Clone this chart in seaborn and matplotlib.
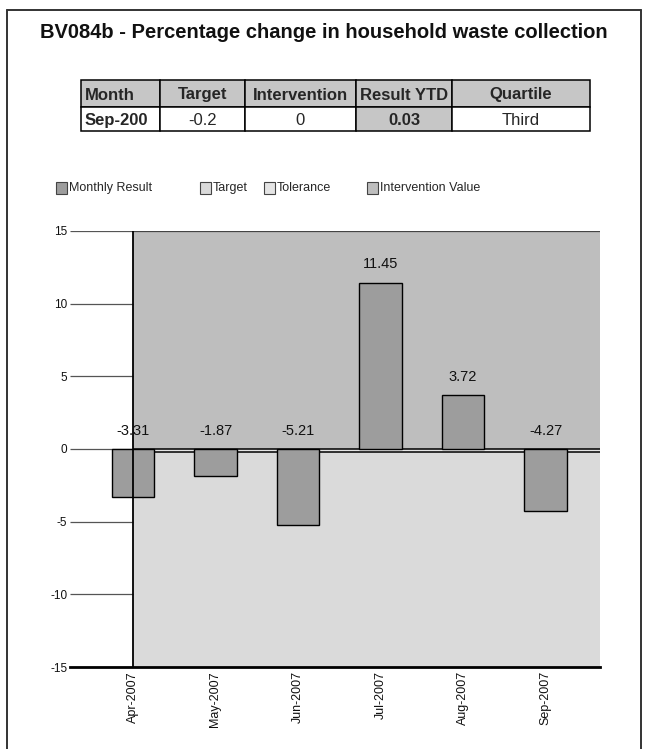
import matplotlib
matplotlib.use("Agg")
import matplotlib.pyplot as plt
from matplotlib.patches import Rectangle
from matplotlib.lines import Line2D
import seaborn as sns
import pandas as pd

# ---- data -------------------------------------------------------------
months = ["Apr-2007", "May-2007", "Jun-2007", "Jul-2007", "Aug-2007", "Sep-2007"]
monthly_result = [-3.31, -1.87, -5.21, 11.45, 3.72, -4.27]
target_value = -0.2
intervention_value = 0.0
y_ticks = [-15, -10, -5, 0, 5, 10, 15]

table_headers = ["Month", "Target", "Intervention", "Result YTD", "Quartile"]
table_row = ["Sep-200", "-0.2", "0", "0.03", "Third"]

legend_labels = ["Monthly Result", "Target", "Tolerance", "Intervention Value"]

title = "BV084b - Percentage change in household waste collection"

# ---- style ------------------------------------------------------------
W, H = 648, 749
sns.set_theme(style="white")
plt.rcParams["font.family"] = ["Liberation Sans", "DejaVu Sans"]

BAR = "#9d9d9d"
UPPER = "#bebebe"
LOWER = "#dadada"
TOL = "#e4e4e4"
HEAD = "#c6c6c6"

fig = plt.figure(figsize=(W / 100, H / 100), dpi=100)


def fx(px):
    return px / W


def fy(py):
    return 1 - py / H


# page frame
for xs, ys in [((7, 7), (10, 749)), ((7, 641), (10, 10)), ((641, 641), (10, 749))]:
    fig.add_artist(Line2D([fx(x) for x in xs], [fy(y) for y in ys],
                          color="#333333", lw=1.4))

# title
fig.text(fx(40), fy(38), title, ha="left", va="baseline",
         fontsize=14.5, fontweight="bold", color="#111111")

# ---- summary table ----------------------------------------------------
col_edges = [81, 160, 245, 356, 452, 590]
row_edges = [80, 107, 131]
for c in range(len(table_headers)):
    x0, x1 = col_edges[c], col_edges[c + 1]
    for r, texts in enumerate([table_headers, table_row]):
        y0, y1 = row_edges[r], row_edges[r + 1]
        shaded = (r == 0) or (table_headers[c] == "Result YTD")
        fig.add_artist(Rectangle((fx(x0), fy(y1)), fx(x1) - fx(x0), fy(y0) - fy(y1),
                                 facecolor=HEAD if shaded else "white",
                                 edgecolor="black", lw=1.1))
        bold = r == 0 or c == 0 or table_headers[c] == "Result YTD"
        base = (y0 + y1) / 2 + 6
        if c == 0:
            fig.text(fx(x0 + 4), fy(base), texts[c], ha="left", va="baseline",
                     fontsize=12, fontweight="bold" if bold else "normal")
        else:
            fig.text(fx((x0 + x1) / 2), fy(base), texts[c], ha="center",
                     va="baseline", fontsize=12, fontweight="bold" if bold else "normal")

# ---- legend -----------------------------------------------------------
legend_x = [56, 200, 264, 367]
legend_colors = [BAR, LOWER, TOL, UPPER]
legend_y = 188
for lx, lab, col in zip(legend_x, legend_labels, legend_colors):
    fig.add_artist(Rectangle((fx(lx), fy(legend_y + 6)), fx(11), 12 / H,
                             facecolor=col, edgecolor="#444444", lw=0.8))
    fig.text(fx(lx + 13), fy(legend_y), lab, ha="left", va="center", fontsize=9)

# ---- chart ------------------------------------------------------------
ax = fig.add_axes([fx(70), fy(667), fx(600) - fx(70), fy(231) - fy(667)])
ax.set_facecolor("none")

df = pd.DataFrame({"month": months, "result": monthly_result})
sns.barplot(data=df, x="month", y="result", color=BAR, saturation=1, width=0.51,
            edgecolor="black", linewidth=1.0, ax=ax)
for p in ax.patches:
    p.set_zorder(3)

x_left = -(133 - 70) / 82.5
x_right = (600 - 133) / 82.5
ax.set_xlim(x_left, x_right)
ax.set_ylim(-15, 15)

# performance bands
ax.fill_between([0, x_right], intervention_value, 15, color=UPPER, lw=0, zorder=0.5)
ax.fill_between([0, x_right], target_value, intervention_value, color=TOL, lw=0, zorder=0.5)
ax.fill_between([0, x_right], -15, target_value, color=LOWER, lw=0, zorder=0.5)
ax.hlines([intervention_value, target_value], 0, x_right, colors="black", lw=1.1, zorder=1.5)
ax.hlines(15, 0, x_right, colors="#444444", lw=0.9, zorder=1.5)
ax.hlines(y_ticks, x_left, 0, colors="#555555", lw=0.9, zorder=1)
ax.vlines(0, -15, 15, colors="black", lw=1.3, zorder=5)

for i, v in enumerate(monthly_result):
    ax.annotate(f"{v:.2f}", (i, max(v, 0)), xytext=(0, 8), textcoords="offset points",
                ha="center", va="bottom", fontsize=10.5, color="#111111", zorder=4)

for side in ["left", "right", "top"]:
    ax.spines[side].set_visible(False)
ax.spines["bottom"].set_color("black")
ax.spines["bottom"].set_linewidth(2)

ax.set_yticks(y_ticks)
ax.set_yticklabels([str(t) for t in y_ticks], fontsize=8.5)
ax.set_xticks(range(len(months)))
ax.set_xticklabels(months, rotation=90, fontsize=9)
ax.tick_params(axis="both", length=0, colors="#111111")
ax.tick_params(axis="y", pad=2)
ax.tick_params(axis="x", pad=3)
ax.set_xlabel("")
ax.set_ylabel("")

fig.savefig("out.png", dpi=100)
